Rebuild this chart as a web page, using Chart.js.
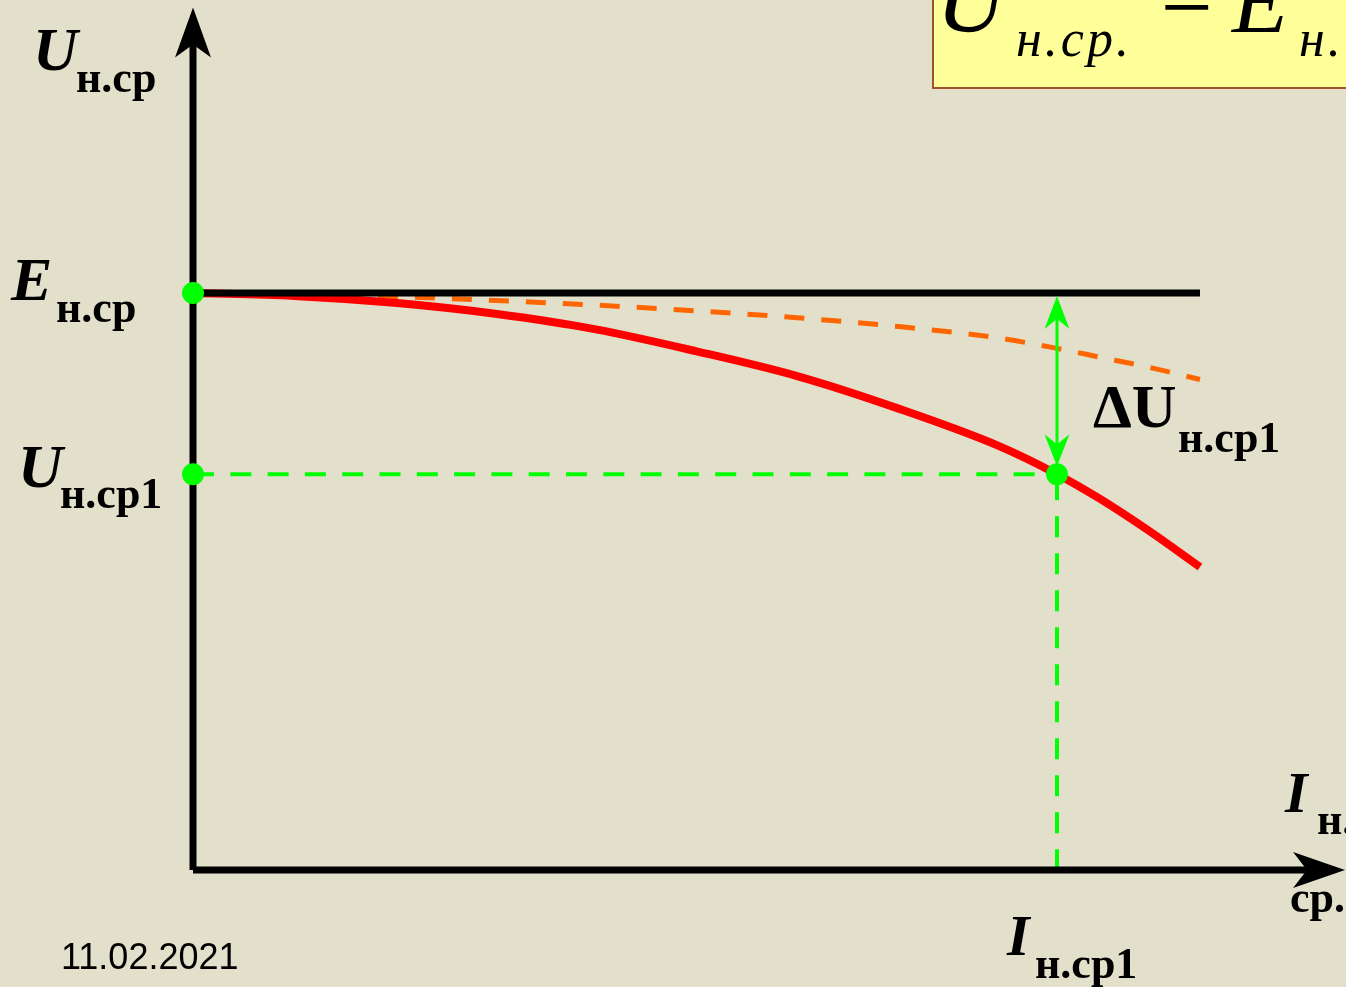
<!DOCTYPE html>
<html>
<head>
<meta charset="utf-8">
<title>Внешняя характеристика выпрямителя</title>
<script src="https://cdn.jsdelivr.net/npm/chart.js@4"></script>
<style>
    html, body { margin: 0; padding: 0; background: #e2e0cb; overflow: hidden; }
    #wrap { width: 1346px; height: 987px; }
</style>
</head>
<body>
<div id="wrap"><canvas id="loadChart" width="1346" height="987"></canvas></div>
<script>
// load current, relative units (x axis)
const currentPoints = [0, 1, 2, 3, 4, 5, 6, 7, 8, 8.58, 9, 9.5, 10];
// real output voltage, fraction of E
const realVoltage = [1.0, 0.995, 0.983, 0.964, 0.937, 0.899, 0.856, 0.800, 0.735, 0.686, 0.644, 0.587, 0.525];
// voltage without the commutation drop (dashed)
const idealVoltage = [1.0, 0.999, 0.994, 0.987, 0.979, 0.969, 0.957, 0.942, 0.922, 0.904, 0.889, 0.871, 0.850];

const emfLevel = 1.0;
const workCurrent = 8.58;
const workVoltage = 0.686;
const xAxisEnd = 11.44;
const yAxisTop = 1.495;

const serifBI = size => `bold italic ${size}px "Liberation Serif", "Times New Roman", serif`;
const serifB = size => `bold ${size}px "Liberation Serif", "Times New Roman", serif`;
const serifI = size => `italic ${size}px "Liberation Serif", "Times New Roman", serif`;

function pts(xs, ys) {
    return xs.map((x, i) => ({ x: x, y: ys[i] }));
}

function arrowHead(ctx, tipX, tipY, dx, dy, len, halfW, notch, color) {
    const px = -dy, py = dx;
    ctx.save();
    ctx.fillStyle = color;
    ctx.beginPath();
    ctx.moveTo(tipX, tipY);
    ctx.lineTo(tipX - dx * len + px * halfW, tipY - dy * len + py * halfW);
    ctx.lineTo(tipX - dx * (len - notch), tipY - dy * (len - notch));
    ctx.lineTo(tipX - dx * len - px * halfW, tipY - dy * len - py * halfW);
    ctx.closePath();
    ctx.fill();
    ctx.restore();
}

function label(ctx, main, mainFont, sub, subFont, x, y, subDx, subDy) {
    ctx.font = mainFont;
    ctx.fillText(main, x, y);
    ctx.font = subFont;
    ctx.fillText(sub, x + subDx, y + subDy);
}

const slideDecor = {
    id: 'slideDecor',
    beforeDraw(chart) {
        const ctx = chart.ctx;
        ctx.save();
        ctx.fillStyle = '#e2e0cb';
        ctx.fillRect(0, 0, chart.width, chart.height);
        // formula frame in the corner
        ctx.fillStyle = '#ffff99';
        ctx.fillRect(933, -10, 430, 98);
        ctx.strokeStyle = '#a0522d';
        ctx.lineWidth = 2;
        ctx.strokeRect(933, -10, 430, 98);
        ctx.restore();
    },
    afterDatasetsDraw(chart) {
        const ctx = chart.ctx;
        const xs = chart.scales.x, ys = chart.scales.y;
        const x0 = xs.getPixelForValue(0);
        const y0 = ys.getPixelForValue(0);
        const xw = xs.getPixelForValue(workCurrent);
        const yE = ys.getPixelForValue(emfLevel);
        const yW = ys.getPixelForValue(workVoltage);

        // axis arrows
        arrowHead(ctx, x0, ys.getPixelForValue(yAxisTop), 0, -1, 50, 18, 13, '#000');
        arrowHead(ctx, xs.getPixelForValue(xAxisEnd), y0, 1, 0, 52, 18, 14, '#000');
        // ΔU arrow heads
        arrowHead(ctx, xw, yE + 3, 0, -1, 33, 12.5, 10, '#00ff00');
        arrowHead(ctx, xw, yW - 8, 0, 1, 32, 12.5, 10, '#00ff00');

        ctx.save();
        ctx.fillStyle = '#000';
        ctx.textBaseline = 'alphabetic';
        ctx.textAlign = 'left';

        label(ctx, 'U', serifBI(62), 'н.ср', serifB(44), x0 - 160, 70, 43, 22);
        label(ctx, 'E', serifBI(62), 'н.ср', serifB(44), x0 - 182, yE + 7, 45, 22);
        label(ctx, 'U', serifBI(62), 'н.ср1', serifB(44), x0 - 175, yW + 13, 42, 21);
        label(ctx, 'ΔU', serifB(62), 'н.ср1', serifB(44), xw + 36, 427, 85, 25);
        label(ctx, 'I', serifBI(58), 'н.', serifB(44), 1285, 812, 32, 22);
        ctx.font = serifB(44);
        ctx.fillText('ср.', 1290, 912);
        label(ctx, 'I', serifBI(58), 'н.ср1', serifB(44), xw - 50, 955, 28, 23);

        // formula text, cut by the frame edge
        ctx.font = serifI(96);
        ctx.fillText('U', 936, 32);
        ctx.font = serifI(52);
        ctx.letterSpacing = '3px';
        ctx.fillText('н.ср.', 1016, 56);
        ctx.fillText('н.', 1299, 56);
        ctx.letterSpacing = '0px';
        ctx.font = serifI(92);
        ctx.fillText('E', 1232, 32);
        ctx.textAlign = 'center';
        ctx.font = `92px "Liberation Serif", "Times New Roman", serif`;
        ctx.fillText('−', 1187, 38);
        ctx.textAlign = 'left';

        ctx.font = '36px "Liberation Sans", Arial, sans-serif';
        ctx.fillText('11.02.2021', 61, 969);
        ctx.restore();
    }
};

const ctx = document.getElementById('loadChart').getContext('2d');

new Chart(ctx, {
    type: 'scatter',
    data: {
        datasets: [
            {
                // operating points
                data: [{ x: 0, y: emfLevel }, { x: 0, y: workVoltage }, { x: workCurrent, y: workVoltage }],
                showLine: false,
                pointRadius: 11,
                pointBackgroundColor: '#00ff00',
                pointBorderWidth: 0,
                clip: false
            },
            {
                data: [{ x: 0, y: 0 }, { x: 0, y: yAxisTop - 0.05 }],
                showLine: true, borderColor: '#000', borderWidth: 7, pointRadius: 0, clip: false
            },
            {
                data: [{ x: 0, y: 0 }, { x: xAxisEnd - 0.3, y: 0 }],
                showLine: true, borderColor: '#000', borderWidth: 7, pointRadius: 0, clip: false
            },
            {
                // E level
                data: [{ x: 0, y: emfLevel }, { x: 10, y: emfLevel }],
                showLine: true, borderColor: '#000', borderWidth: 7, pointRadius: 0, clip: false
            },
            {
                // ΔU shaft
                data: [{ x: workCurrent, y: emfLevel - 0.02 }, { x: workCurrent, y: workVoltage + 0.03 }],
                showLine: true, borderColor: '#00ff00', borderWidth: 3, pointRadius: 0, clip: false
            },
            {
                // projection onto the voltage axis
                data: [{ x: 0, y: workVoltage }, { x: workCurrent, y: workVoltage }],
                showLine: true, borderColor: '#00ff00', borderWidth: 4, borderDash: [21, 16.3],
                pointRadius: 0, clip: false
            },
            {
                // projection onto the current axis
                data: [{ x: workCurrent, y: workVoltage }, { x: workCurrent, y: 0 }],
                showLine: true, borderColor: '#00ff00', borderWidth: 4, borderDash: [21, 16],
                borderDashOffset: 32, pointRadius: 0, clip: false
            },
            {
                data: pts(currentPoints, realVoltage),
                showLine: true, borderColor: '#ff0000', borderWidth: 8,
                cubicInterpolationMode: 'monotone', pointRadius: 0, clip: false
            },
            {
                data: pts(currentPoints, idealVoltage),
                showLine: true, borderColor: '#ff6600', borderWidth: 5, borderDash: [20, 17],
                cubicInterpolationMode: 'monotone', pointRadius: 0, clip: false
            }
        ]
    },
    options: {
        responsive: false,
        animation: false,
        events: [],
        layout: { autoPadding: false, padding: { left: 193, right: 0, top: 4.5, bottom: 117 } },
        scales: {
            x: { type: 'linear', min: 0, max: xAxisEnd + 0.01, display: false },
            y: { type: 'linear', min: 0, max: 1.5, display: false }
        },
        plugins: {
            legend: { display: false },
            tooltip: { enabled: false }
        }
    },
    plugins: [slideDecor]
});
</script>
</body>
</html>
